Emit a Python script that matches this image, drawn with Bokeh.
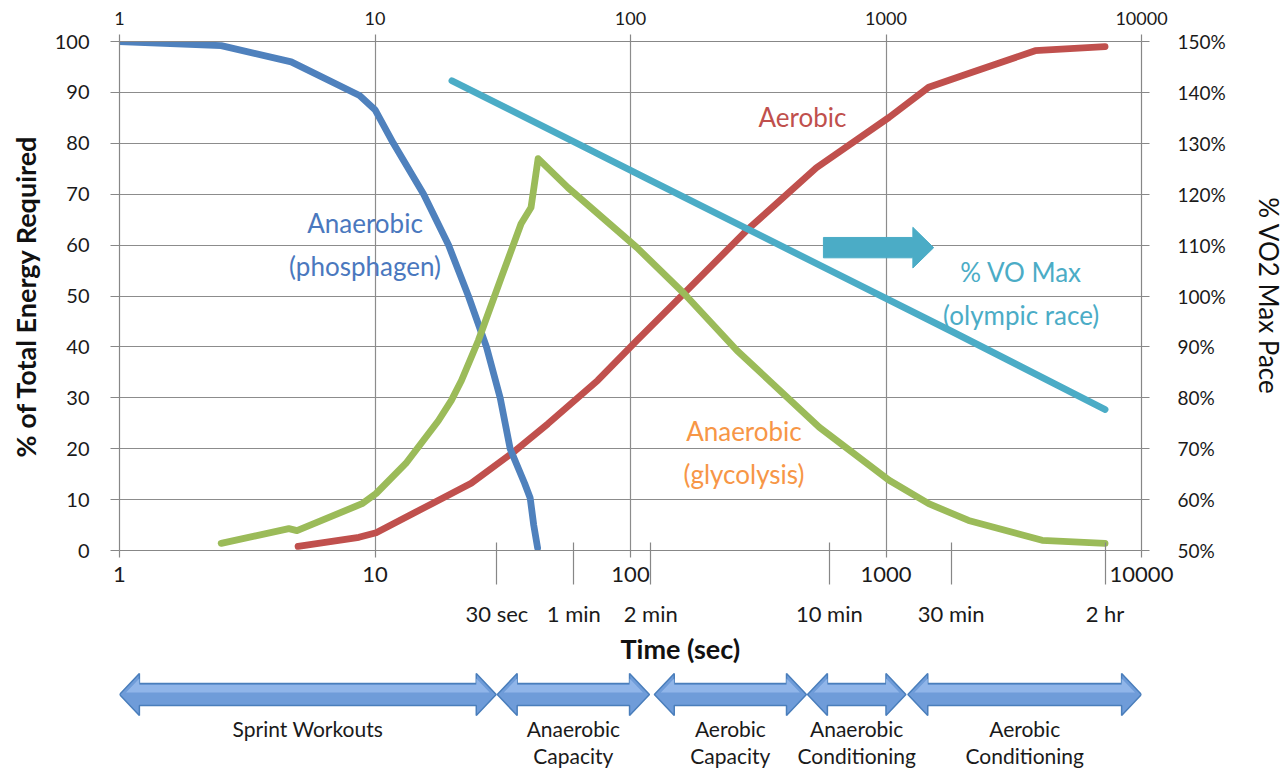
from bokeh.plotting import figure
from bokeh.models import (Range1d, LinearAxis, LogAxis, FixedTicker, PrintfTickFormatter,
                          NumeralTickFormatter, Title)
from bokeh.layouts import column
from bokeh.core.properties import value
from bokeh.embed import file_html
from bokeh.resources import INLINE

FONT = "Lato"
GRID = "#8c8c8c"
AXIS = "#878787"
TXT = "#1a1a1a"

# ---------------- data ----------------
decade_ticks = [1, 10, 100, 1000, 10000]
time_ticks = [30, 60, 120, 600, 1800, 7200]
time_labels = ["30 sec", "1 min", "2 min", "10 min", "30 min", "2 hr"]
energy_ticks = [0, 10, 20, 30, 40, 50, 60, 70, 80, 90, 100]
pace_ticks = [50, 60, 70, 80, 90, 100, 110, 120, 130, 140, 150]

phos_t = [1, 2.5, 4.7, 8.7, 10, 11.8, 15.5, 19.4, 23.2, 27.3, 30.9, 33.8, 38.5, 40.5, 41.8, 43.3]
phos_y = [100, 99.2, 96.0, 89.4, 86.6, 80, 70, 60, 50, 40, 30, 20, 13.2, 10.3, 5.0, 0.5]

glyc_t = [2.5, 4.6, 4.95, 8.9, 10.1, 13.2, 17.7, 19.9, 21.8, 25.4, 31.2, 37.3, 40.8, 43.5,
          56.9, 106, 162, 261, 548, 1028, 1469, 2104, 4083, 7200]
glyc_y = [1.4, 4.3, 3.9, 9.2, 11.2, 17.1, 25.5, 29.5, 33.4, 41.3, 53.6, 64.2, 67.4, 77.0,
          71.3, 59.5, 50.5, 39.3, 24.2, 13.8, 9.2, 5.9, 2.0, 1.4]

aero_t = [5.0, 8.65, 10.1, 16.7, 23.8, 35.4, 47.5, 74.4, 106, 162, 285, 534, 1028, 1469,
          2104, 3836, 4140, 7200]
aero_y = [0.8, 2.6, 3.5, 9.2, 13.2, 19.6, 24.9, 33.4, 41.3, 50.5, 62.9, 75.2, 85.1, 91.0,
          93.7, 98.2, 98.3, 99.0]

vo2_t = [20, 60, 120, 600, 1800, 7200]
vo2_pct = [142.3, 130.3, 122.7, 105.1, 93.1, 77.7]

zone_start = [1, 30.1, 124, 493, 1218]
zone_end = [29.8, 118.6, 488, 1196, 10000]
zone_line1 = ["Sprint Workouts", "Anaerobic", "Aerobic", "Anaerobic", "Aerobic"]
zone_line2 = ["", "Capacity", "Capacity", "Conditioning", "Conditioning"]

BLUE, RED, GREEN, CYAN, ORANGE = "#4F81BD", "#C0504D", "#9BBB59", "#4BACC6", "#F79646"

W = 1287
MAIN_H = 670
x_range = Range1d(1, 10000)

# ---------------- main chart ----------------
p = figure(width=W, height=MAIN_H, x_axis_type="log", x_range=x_range,
           y_range=Range1d(0, 100), output_backend="svg", toolbar_location=None,
           min_border_left=119, min_border_right=140, min_border_top=41,
           min_border_bottom=MAIN_H - 550)
p.outline_line_color = None
p.background_fill_color = "white"

p.extra_y_ranges = {"pct": Range1d(50, 150)}

# grids
p.xgrid.ticker = FixedTicker(ticks=decade_ticks)
p.ygrid.ticker = FixedTicker(ticks=energy_ticks)
p.grid.grid_line_color = GRID
p.grid.grid_line_width = 1.2

def style_axis(ax, size):
    ax.axis_line_color = AXIS
    ax.axis_line_width = 1.2
    ax.major_tick_line_color = AXIS
    ax.major_tick_line_width = 1.2
    ax.major_tick_in = 0
    ax.minor_tick_line_color = None
    ax.major_label_text_font = FONT
    ax.major_label_text_font_size = size
    ax.major_label_text_color = TXT

# bottom axis 1: decades
bx = p.xaxis[0]
bx.ticker = FixedTicker(ticks=decade_ticks)
bx.formatter = NumeralTickFormatter(format="0")
style_axis(bx, "22px")
bx.major_tick_out = 7
bx.major_label_standoff = 9

# bottom axis 2: time marks, long ticks reaching up to the first axis line
bx2 = LogAxis(ticker=FixedTicker(ticks=time_ticks),
              formatter=NumeralTickFormatter(format="0"),
              major_label_overrides={t: s for t, s in zip(time_ticks, time_labels)})
style_axis(bx2, "22px")
bx2.axis_line_color = None
bx2.major_tick_out = 0
bx2.major_tick_in = 42
bx2.major_label_standoff = 15
p.add_layout(bx2, "below")

# x-axis title, placed right of centre as in the source
p.add_layout(Title(text="Time (sec)", align="left", offset=501, text_font=FONT,
                   text_font_size="27px", text_font_style="bold", text_color="#111111",
                   standoff=0), "below")

# top axis
tx = LogAxis(ticker=FixedTicker(ticks=decade_ticks), formatter=NumeralTickFormatter(format="0"))
style_axis(tx, "18px")
tx.major_tick_out = 7
tx.major_label_standoff = 10
p.add_layout(tx, "above")

# left axis
ly = p.yaxis[0]
ly.ticker = FixedTicker(ticks=energy_ticks)
style_axis(ly, "20px")
ly.major_tick_out = 9
ly.major_label_standoff = 21
ly.axis_label = "% of Total Energy Required"
ly.axis_label_text_font = FONT
ly.axis_label_text_font_style = "bold"
ly.axis_label_text_font_size = "27px"
ly.axis_label_text_color = "#111111"
ly.axis_label_standoff = 10

# right axis
ry = LinearAxis(y_range_name="pct", ticker=FixedTicker(ticks=pace_ticks),
                formatter=PrintfTickFormatter(format="%d%%"))
style_axis(ry, "19px")
ry.major_tick_out = 8
ry.major_label_standoff = 28
ry.axis_label = "% VO2 Max Pace"
ry.axis_label_text_font = FONT
ry.axis_label_text_font_style = "normal"
ry.axis_label_text_font_size = "26px"
ry.axis_label_text_color = "#111111"
ry.axis_label_standoff = 24
p.add_layout(ry, "right")

# series
lw = 6.8
p.line(aero_t, aero_y, line_color=RED, line_width=lw, line_cap="round", line_join="round")
p.line(phos_t, phos_y, line_color=BLUE, line_width=lw, line_cap="round", line_join="round")
p.line(glyc_t, glyc_y, line_color=GREEN, line_width=lw, line_cap="round", line_join="round")
p.line(vo2_t, vo2_pct, y_range_name="pct", line_color=CYAN, line_width=lw,
       line_cap="round", line_join="round")

# block arrow pointing to the right axis
arr_x0, arr_x1, arr_tip, arr_y, arr_sh, arr_hh = 569, 1274, 1537, 59.5, 2.0, 4.0
p.patch([arr_x0, arr_x1, arr_x1, arr_tip, arr_x1, arr_x1, arr_x0],
        [arr_y - arr_sh, arr_y - arr_sh, arr_y - arr_hh, arr_y, arr_y + arr_hh,
         arr_y + arr_sh, arr_y + arr_sh],
        fill_color=CYAN, line_color=CYAN, line_width=1)

# series labels
def note(x, y, txt, color):
    p.text(x=[x], y=[y], text=[txt], text_font=value(FONT), text_font_size="26px",
           text_color=color, text_align="center", text_baseline="middle",
           text_line_height=1.35)

note(9.14, 60.1, "Anaerobic\n(phosphagen)", "#4A78BE")
note(471, 85.1, "Aerobic", RED)
note(3381, 50.5, "% VO Max\n(olympic race)", CYAN)
note(278, 19.3, "Anaerobic\n(glycolysis)", ORANGE)

# ---------------- lower strip: training zones ----------------
H2 = 768 - MAIN_H
p2 = figure(width=W, height=H2, x_axis_type="log", x_range=x_range,
            y_range=Range1d(H2, 0), output_backend="svg", toolbar_location=None,
            min_border_left=119, min_border_right=140, min_border_top=0,
            min_border_bottom=0, x_axis_location=None, y_axis_location=None)
p2.outline_line_color = None
p2.grid.visible = False

top = MAIN_H  # page y of the strip's top edge
head = 10 ** (20 / 257)
cy, sh, hh = 694 - top, 11, 21
xs, ys, hx, hy = [], [], [], []
for a, b in zip(zone_start, zone_end):
    xs.append([a, a * head, a * head, b / head, b / head, b, b / head, b / head, a * head, a * head])
    ys.append([cy, cy - hh, cy - sh, cy - sh, cy - hh, cy, cy + hh, cy + sh, cy + sh, cy + hh])
    # lighter upper band to suggest the source's gradient
    hx.append([a * 1.06, a * head, a * head, b / head, b / head, b / 1.06])
    hy.append([cy - 2, cy - hh + 5, cy - sh + 1.5, cy - sh + 1.5, cy - hh + 5, cy - 2])
p2.patches(xs, ys, fill_color="#6F9CD9", line_color="#4A7EBB", line_width=1.5)
p2.patches(hx, hy, fill_color="#93B8EA", line_color=None, fill_alpha=0.9)

zone_mid = [(a * b) ** 0.5 for a, b in zip(zone_start, zone_end)]
p2.text(x=zone_mid, y=[728 - top] * 5, text=zone_line1, text_font=value(FONT),
        text_font_size="21px", text_color=TXT, text_align="center", text_baseline="middle")
p2.text(x=zone_mid, y=[755 - top] * 5, text=zone_line2, text_font=value(FONT),
        text_font_size="21px", text_color=TXT, text_align="center", text_baseline="middle")

layout = column(p, p2, spacing=0)
open("out.html", "w").write(file_html(layout, INLINE))
